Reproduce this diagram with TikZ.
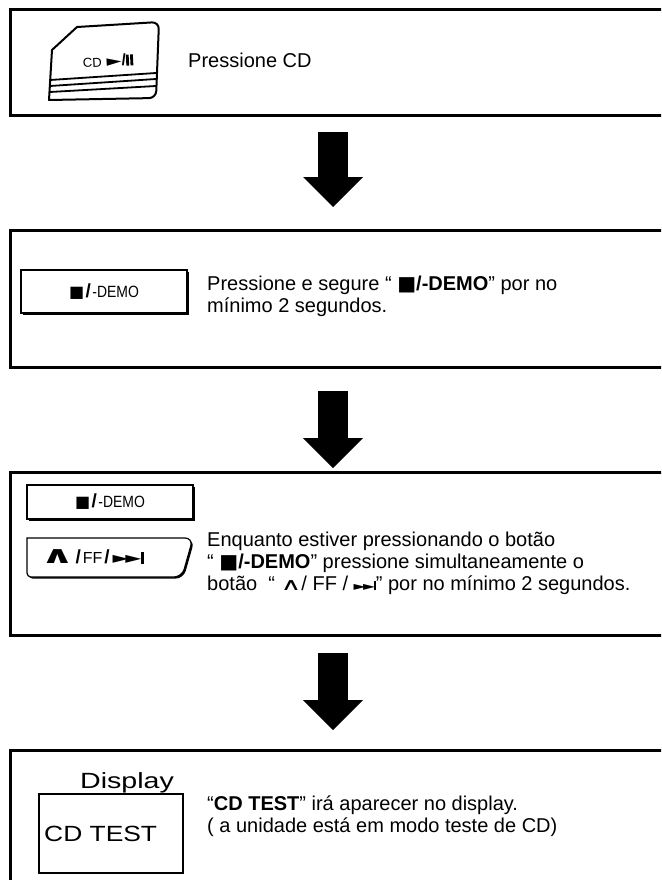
\documentclass[tikz,border=0pt]{standalone}
\usepackage{fontspec}
\setmainfont{Liberation Sans}
\newfontfamily\symfont{DejaVu Sans}
\usetikzlibrary{arrows.meta,positioning,shadows}

\newcommand{\sqmark}{{\symfont\char"25A0}}
\newcommand{\upmark}{{\symfont\char"2227}}
\newcommand{\playmark}{{\symfont\char"25BA}}
\newcommand{\nextmark}{{\fontsize{12}{12}\selectfont\scalebox{1.3}[1]{\playmark\kern-2pt\playmark}}\kern-.8pt\rule[.5pt]{1.6pt}{9pt}}
\newcommand{\demokey}{{\fontsize{16}{16}\selectfont\sqmark}\kern1.5pt{\fontsize{19}{19}\selectfont\bfseries/}\kern1.5pt{\fontsize{15.5}{15.5}\selectfont\scalebox{.9}[1.05]{-DEMO}}}
\newcommand{\skipkey}{{\fontsize{20}{20}\selectfont\bfseries\scalebox{2.1}[1.2]{\upmark}}\kern1pt{\fontsize{19}{19}\selectfont\bfseries/}\kern2pt{\fontsize{16}{16}\selectfont FF}\kern2pt{\fontsize{19}{19}\selectfont\bfseries/}\kern3pt{\fontsize{16}{16}\selectfont\scalebox{1.3}[1]{\playmark\kern-2.5pt\playmark}}\rule{2.2pt}{11.5pt}}

\begin{document}
\begin{tikzpicture}[x=1pt, y=-1pt, every node/.style={font=\fontsize{20}{22}\selectfont, inner sep=0pt},
  stepbox/.style={draw, line width=3pt, anchor=north west, minimum width=720pt},
  keybox/.style={draw, fill=white, line width=1.2pt, drop shadow={shadow xshift=1.6pt, shadow yshift=-1.6pt, opacity=1, fill=black}},
  bigarrow/.style={line width=30pt, -{Triangle[width=60pt, length=30pt, line width=0pt]}}]
\useasboundingbox (0,0) rectangle (661,880);
\clip (0,0) rectangle (661,880);
\node[stepbox, minimum height=106pt] (s1) at (8.5,8.5) {};
\node[stepbox, minimum height=137pt] (s2) at (8.5,228.5) {};
\node[stepbox, minimum height=163.5pt] (s3) at (8.5,470.5) {};
\node[stepbox, minimum height=200pt] (s4) at (8.5,749) {};
\coordinate (ax) at (333,0);
\draw[bigarrow, shorten <=14.5pt, shorten >=21.5pt] (s1.south -| ax) -- (s2.north -| ax);
\draw[bigarrow, shorten <=22.5pt, shorten >=2.5pt] (s2.south -| ax) -- (s3.north -| ax);
\draw[bigarrow, shorten <=16pt, shorten >=19pt] (s3.south -| ax) -- (s4.north -| ax);

\draw[line width=2pt, line join=round] (52,50) -- (77,27) [rounded corners=7pt] -- (159,22) -- (156,98) [sharp corners] -- (49,100) -- cycle;
\draw[line width=1.8pt] (50,80) -- (156,73) (50,86) -- (156,79) (50,92) -- (156,86);
\node[rotate=3] (cd) at (108,61) {{\fontsize{13}{13}\selectfont CD}\kern5pt{\fontsize{15}{15}\selectfont\scalebox{1.3}[1]{\playmark}}{\fontsize{16}{16}\selectfont\bfseries/}\rule{2.8pt}{11pt}\kern1.4pt\rule{2.8pt}{11pt}};
\node[anchor=west] (t1) at (188,60) {Pressione CD};

\node[keybox, minimum width=166pt, minimum height=43pt] (b2) at (104,291.5) {\demokey};
\node[anchor=west, align=left] (t2) at (207,296) {Pressione e segure “ \textbf{\sqmark/-DEMO}” por no\\mínimo 2 segundos.};

\node[keybox, minimum width=166pt, minimum height=34pt] (b3) at (110,502) {\demokey};
\draw[keybox] (27,538) [rounded corners=8pt] -- (193,538) -- (182,577) [rounded corners=4pt] -- (27,577) [sharp corners] -- cycle;
\node (b4) at (92,557) {\skipkey};
\node[anchor=west, align=left] (t3) at (207,563) {Enquanto estiver pressionando o botão\\“ \textbf{\sqmark/-DEMO}” pressione simultaneamente o\\botão \ “ {\fontsize{19}{19}\selectfont\scalebox{1.5}[.9]{\upmark}}/ FF / \nextmark” por no mínimo 2 segundos.};

\node[draw, line width=2.2pt, minimum width=144pt, minimum height=79pt] (disp) at (111,833.5) {};
\node[anchor=west, font=\fontsize{22}{22}\selectfont] (dtext) at (44,834) {\scalebox{1.2}[1]{CD TEST}};
\node[above left=0pt and 10pt of disp.north east, anchor=south east, font=\fontsize{22}{22}\selectfont] (dlabel) {\scalebox{1.3}[1]{Display}};
\node[anchor=west, align=left] (t4) at (207,816) {“\textbf{CD TEST}” irá aparecer no display.\\( a unidade está em modo teste de CD)};
\end{tikzpicture}
\end{document}
